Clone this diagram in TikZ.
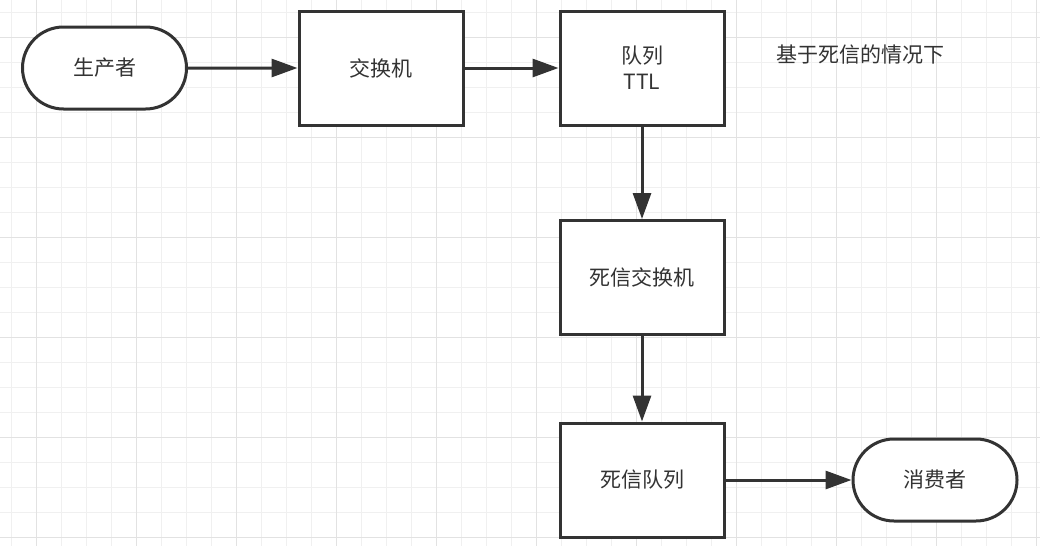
\documentclass[tikz,border=0pt]{standalone}
\usepackage{fontspec}
\setmainfont{Noto Sans CJK SC}
\usetikzlibrary{arrows.meta,shapes.misc}
\definecolor{ink}{HTML}{333333}
\definecolor{gridminor}{HTML}{F0F0F0}
\definecolor{gridmajor}{HTML}{E2E2E2}
\tikzset{
  box/.style={draw=ink, line width=3pt, fill=white, minimum width=164pt, minimum height=114pt, inner sep=0pt, text=ink, font=\fontsize{21}{26}\selectfont, align=center},
  term/.style={draw=ink, line width=3pt, fill=white, rounded rectangle, minimum width=164pt, minimum height=82pt, inner sep=0pt, text=ink, font=\fontsize{21}{26}\selectfont},
  flow/.style={draw=ink, line width=3pt, -{Triangle[length=26pt,width=18pt]}},
}
\begin{document}
\begin{tikzpicture}[x=1pt,y=-1pt]
\useasboundingbox (0,0) rectangle (1040,546);
\fill[white] (0,0) rectangle (1040,546);
\foreach \i in {0,...,41} {
  \draw[gridminor, line width=1pt] (11.5+25*\i,0) -- (11.5+25*\i,546);
}
\foreach \j in {0,...,21} {
  \draw[gridminor, line width=1pt] (0,12+25*\j) -- (1040,12+25*\j);
}
\foreach \i in {0,...,10} {
  \draw[gridmajor, line width=1pt] (36.5+100*\i,0) -- (36.5+100*\i,546);
}
\foreach \j in {0,...,5} {
  \draw[gridmajor, line width=1pt] (0,37+100*\j) -- (1040,37+100*\j);
}
\node[term] (prod) at (104.5,68) {生产者};
\node[box] (ex) at (381,68) {交换机};
\node[box] (q) at (642,68) {队列\\TTL};
\node[box] (dlx) at (642,277.5) {死信交换机};
\node[box] (dlq) at (642,480) {死信队列};
\node[term] (cons) at (935,480) {消费者};
\node[text=ink, font=\fontsize{21}{26}\selectfont] (note) at (860,55) {基于死信的情况下};
\draw[flow] (prod) -- (ex);
\draw[flow] (ex) -- (q);
\draw[flow] (q) -- (dlx);
\draw[flow] (dlx) -- (dlq);
\draw[flow] (dlq) -- (cons);
\end{tikzpicture}
\end{document}
